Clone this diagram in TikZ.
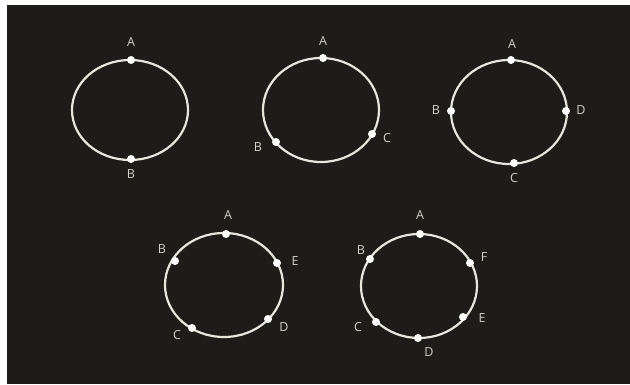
\documentclass[tikz,border=0pt]{standalone}
\usepackage{fontspec}
\setmainfont{Open Sans}
\definecolor{board}{HTML}{1D1C18}
\definecolor{chalk}{HTML}{E6E6DC}
\definecolor{chalklbl}{HTML}{D0D0C8}
\tikzset{
  ring/.style={draw=chalk, line width=2.2pt},
  pt/.style={circle, fill=white, inner sep=0pt, minimum size=8pt},
  lbl/.style={text=chalklbl, font=\fontsize{12.5}{12.5}\selectfont, inner sep=0pt}
}
\begin{document}
\begin{tikzpicture}[x=1pt,y=-1pt]
\useasboundingbox (0,0) rectangle (630,384);
\fill[white] (0,0) rectangle (630,384);
\fill[board] (7,5) rectangle (630,384);
% circle 1
\draw[ring] (130,110) ellipse [x radius=58, y radius=50];
\node[pt] (a1) at (131,60) {};
\node[pt] (b1) at (131,159) {};
\node[lbl] (la1) at (131,42) {A};
\node[lbl] (lb1) at (131,174) {B};
% circle 2
\draw[ring] (321,110) ellipse [x radius=58, y radius=52];
\node[pt] (a2) at (323,58) {};
\node[pt] (b2) at (276,142) {};
\node[pt] (c2) at (372,134) {};
\node[lbl] (la2) at (323,41) {A};
\node[lbl] (lb2) at (258,147) {B};
\node[lbl] (lc2) at (387,138) {C};
% circle 3
\draw[ring] (509,112) ellipse [x radius=58, y radius=52];
\node[pt] (a3) at (511,60) {};
\node[pt] (b3) at (451,111) {};
\node[pt] (c3) at (514,163) {};
\node[pt] (d3) at (566,111) {};
\node[lbl] (la3) at (512,44) {A};
\node[lbl] (lb3) at (436,110) {B};
\node[lbl] (lc3) at (514,178) {C};
\node[lbl] (ld3) at (581,110) {D};
% circle 4
\draw[ring] (224,285) ellipse [x radius=59, y radius=52];
\node[pt] (a4) at (226,234) {};
\node[pt] (b4) at (175,261) {};
\node[pt] (c4) at (192,328) {};
\node[pt] (d4) at (268,319) {};
\node[pt] (e4) at (277,263) {};
\node[lbl] (la4) at (228,215) {A};
\node[lbl] (lb4) at (162,249) {B};
\node[lbl] (lc4) at (177,335) {C};
\node[lbl] (ld4) at (284,327) {D};
\node[lbl] (le4) at (295,261) {E};
% circle 5
\draw[ring] (419,286) ellipse [x radius=58, y radius=52];
\node[pt] (a5) at (420,234) {};
\node[pt] (b5) at (370,259) {};
\node[pt] (c5) at (376,322) {};
\node[pt] (d5) at (418,338) {};
\node[pt] (e5) at (463,317) {};
\node[pt] (f5) at (470,263) {};
\node[lbl] (la5) at (420,215) {A};
\node[lbl] (lb5) at (361,250) {B};
\node[lbl] (lc5) at (358,327) {C};
\node[lbl] (ld5) at (429,352) {D};
\node[lbl] (le5) at (482,318) {E};
\node[lbl] (lf5) at (484,257) {F};
\end{tikzpicture}
\end{document}
